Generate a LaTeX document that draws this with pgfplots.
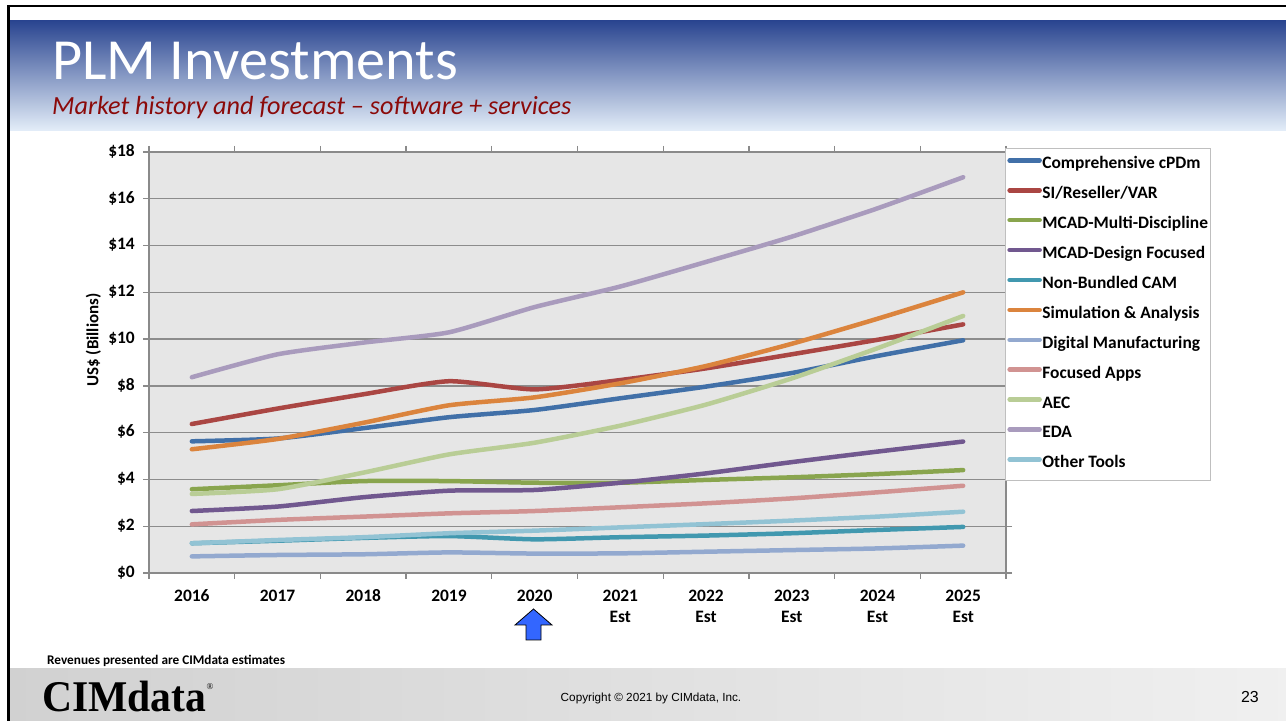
\documentclass[border=0pt]{standalone}
\usepackage{fontspec}
\setmainfont{Carlito}
\newfontfamily\arialfont{Liberation Sans}
\newfontfamily\logofont{Liberation Serif}
\usepackage{pgfplots}
\pgfplotsset{compat=1.18}
\usepackage{pgfplotstable}

\definecolor{cpdm}{HTML}{4170A8}
\definecolor{si}{HTML}{AA4643}
\definecolor{multi}{HTML}{89A54E}
\definecolor{design}{HTML}{71588F}
\definecolor{cam}{HTML}{4198AF}
\definecolor{sim}{HTML}{DB843D}
\definecolor{dm}{HTML}{93A9CF}
\definecolor{focused}{HTML}{D19392}
\definecolor{aec}{HTML}{B9CD96}
\definecolor{eda}{HTML}{A99BBD}
\definecolor{other}{HTML}{92C3D4}
\definecolor{plotbg}{HTML}{E6E6E6}
\definecolor{gridgray}{HTML}{8C8C8C}
\definecolor{axisgray}{HTML}{8A8A8A}
\definecolor{legendgray}{HTML}{BFBFBF}
\definecolor{headtop}{HTML}{2A4590}
\definecolor{headbot}{HTML}{E4EEF9}
\definecolor{subred}{HTML}{8B0A0A}
\definecolor{arrowblue}{HTML}{3366FF}

\pgfplotstableread{
x cpdm si multi design cam sim dm focused aec eda other
0 5.63 6.37 3.58 2.65 1.27 5.29 0.71 2.08 3.38 8.37 1.27
1 5.75 7.03 3.75 2.84 1.38 5.73 0.77 2.27 3.58 9.35 1.41
2 6.19 7.64 3.93 3.24 1.50 6.42 0.80 2.41 4.29 9.85 1.53
3 6.66 8.20 3.93 3.52 1.58 7.17 0.88 2.55 5.07 10.29 1.70
4 6.97 7.85 3.86 3.55 1.44 7.51 0.83 2.65 5.57 11.37 1.81
5 7.47 8.25 3.86 3.86 1.53 8.11 0.84 2.81 6.30 12.25 1.95
6 7.97 8.75 3.98 4.26 1.60 8.85 0.91 2.98 7.20 13.30 2.09
7 8.55 9.35 4.09 4.74 1.70 9.80 0.98 3.19 8.32 14.38 2.24
8 9.28 9.97 4.23 5.19 1.84 10.87 1.05 3.45 9.61 15.59 2.41
9 9.95 10.63 4.40 5.62 1.97 12.00 1.17 3.73 10.99 16.92 2.62
}\plmdata

\begin{document}
\begin{tikzpicture}
\begin{scope}[x=1bp,y=1bp]
% page
\fill[white] (0,0) rectangle (1286,721);
% header band
\shade[top color=headtop, bottom color=headbot] (9,590) rectangle (1286,700);
% footer band
\shade[left color=black!18, right color=black!6] (9,0) rectangle (1286,52);
% frame
\draw[black, line width=2.5bp] (7,715) -- (1286,715);
\draw[black, line width=2bp] (8.5,715) -- (8.5,0);
% title
\node[anchor=base west, inner sep=0, text=white, font=\fontsize{58.4}{62}\selectfont] at (52,641) {PLM Investments};
\node[anchor=base west, inner sep=0, text=subred, font=\fontsize{26.3}{30}\selectfont\itshape] at (52,606) {Market history and forecast – software + services};
\end{scope}

\begin{axis}[
  at={(149bp,148bp)}, anchor=south west,
  scale only axis, width=857bp, height=421bp,
  xmin=-0.5, xmax=9.5, ymin=0, ymax=18,
  xtick={0,...,9},
  xticklabels={2016,2017,2018,2019,2020,{2021\\Est},{2022\\Est},{2023\\Est},{2024\\Est},{2025\\Est}},
  minor xtick={-0.5,0.5,...,9.5},
  ytick={0,2,...,18},
  yticklabels={\$0,\$2,\$4,\$6,\$8,\$10,\$12,\$14,\$16,\$18},
  tick align=outside,
  major tick length=6bp, minor tick length=6bp,
  major x tick style={draw=none},
  tick style={color=axisgray, line width=1.3bp},
  ymajorgrids,
  grid style={color=gridgray, line width=1.3bp},
  axis line style={color=axisgray, line width=1.6bp},
  axis background/.style={fill=plotbg},
  ticklabel style={font=\fontsize{17.5}{21.5}\selectfont\bfseries},
  xticklabel style={align=center, inner sep=0pt, anchor=north, yshift=-7bp},
  typeset ticklabels with strut,
  yticklabel style={inner sep=0pt, anchor=east, xshift=-8bp},
  ylabel={US\$ (Billions)},
  ylabel style={font=\fontsize{17}{20}\selectfont\bfseries, at={(axis description cs:-0.065,0.553)}, anchor=center},
  legend style={at={(rel axis cs:0.9988,1.0095)}, anchor=north west,
    draw=legendgray, line width=0.8bp, fill=white,
    inner xsep=2bp, inner ysep=7.5bp,
    font=\fontsize{17.5}{20}\selectfont\bfseries,
    row sep=11.9bp,
    nodes={inner sep=0.5bp, text height=12.5bp, text depth=4.5bp},
    /tikz/every even column/.append style={column sep=4bp}},
  legend cell align=left,
  legend image code/.code={\draw[#1, line width=4.5bp, line cap=round] (0bp,4.5bp) -- (30bp,4.5bp);},
  every axis plot/.append style={line width=4.5bp, line cap=round, line join=round, smooth, tension=0.35},
  clip=false,
]
\addplot[cpdm] table[x=x,y=cpdm]{\plmdata};
\addlegendentry{Comprehensive cPDm}
\addplot[si] table[x=x,y=si]{\plmdata};
\addlegendentry{SI/Reseller/VAR}
\addplot[multi] table[x=x,y=multi]{\plmdata};
\addlegendentry{MCAD-Multi-Discipline}
\addplot[design] table[x=x,y=design]{\plmdata};
\addlegendentry{MCAD-Design Focused}
\addplot[cam] table[x=x,y=cam]{\plmdata};
\addlegendentry{Non-Bundled CAM}
\addplot[sim] table[x=x,y=sim]{\plmdata};
\addlegendentry{Simulation \& Analysis}
\addplot[dm] table[x=x,y=dm]{\plmdata};
\addlegendentry{Digital Manufacturing}
\addplot[focused] table[x=x,y=focused]{\plmdata};
\addlegendentry{Focused Apps}
\addplot[aec] table[x=x,y=aec]{\plmdata};
\addlegendentry{AEC}
\addplot[eda] table[x=x,y=eda]{\plmdata};
\addlegendentry{EDA}
\addplot[other] table[x=x,y=other]{\plmdata};
\addlegendentry{Other Tools}
\end{axis}

\begin{scope}[x=1bp,y=1bp]
% arrow under 2020
\draw[black, line width=0.8bp, fill=arrowblue]
  (533.5,112) -- (552,96) -- (541,96) -- (541,81) -- (526,81) -- (526,96) -- (515,96) -- cycle;
% footer texts
\node[anchor=west, inner sep=0, font=\fontsize{13.3}{15}\selectfont\bfseries] at (47,60) {Revenues presented are CIMdata estimates};
\node[anchor=base west, inner sep=0, font=\logofont\fontsize{44}{46}\selectfont\bfseries, xscale=0.95] at (42,10) {CIMdata};
\node[anchor=center, inner sep=0, font=\logofont\fontsize{9}{10}\selectfont] at (210,34) {®};
\node[anchor=center, inner sep=0, font=\arialfont\fontsize{11.8}{13}\selectfont] at (651,23) {Copyright © 2021 by CIMdata, Inc.};
\node[anchor=center, inner sep=0, font=\arialfont\fontsize{16}{18}\selectfont] at (1250,24) {23};
\end{scope}
\pgfresetboundingbox
\path[use as bounding box] (0,0) rectangle (1286bp,721bp);
\end{tikzpicture}
\end{document}
